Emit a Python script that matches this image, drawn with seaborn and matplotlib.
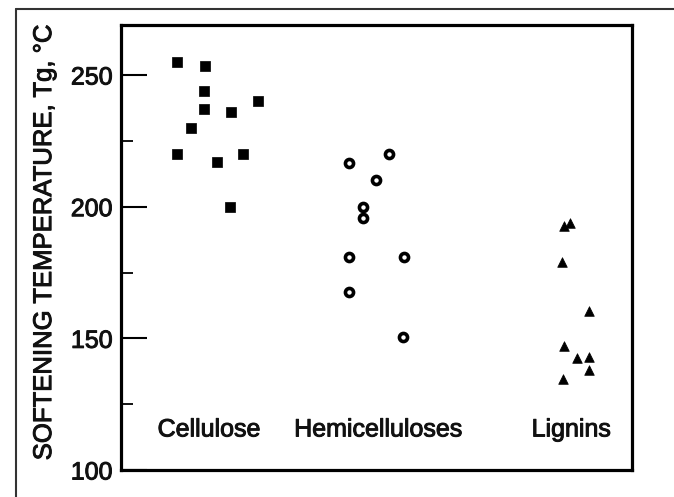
import matplotlib
matplotlib.use("Agg")
import matplotlib.pyplot as plt
import matplotlib.patheffects as pe
from matplotlib.lines import Line2D
from matplotlib.ticker import MultipleLocator
import pandas as pd
import seaborn as sns

# Softening (glass transition) temperatures of wood polymers, in °C.
# x values are horizontal positions within each column, on a 0-10 scale.
cellulose_x = [1.10, 1.64, 1.62, 1.62, 2.15, 2.68, 1.37, 1.10, 2.39, 1.88, 2.13]
cellulose_tg = [255, 253.4, 244, 237, 236, 240, 230, 220, 220, 217, 200]

hemicellulose_x = [4.46, 5.24, 4.99, 4.74, 4.74, 4.46, 5.54, 4.46, 5.52]
hemicellulose_tg = [216.6, 220, 210, 200, 195.6, 181, 181, 167.5, 150.5]

lignin_x = [8.67, 8.79, 8.63, 9.16, 8.67, 8.92, 9.16, 9.16, 8.65]
lignin_tg = [192.5, 193.7, 179, 160.5, 147, 142.5, 143, 138, 134.7]

categories = ["Cellulose", "Hemicelluloses", "Lignins"]
category_label_x = [1.72, 5.03, 8.81]
category_label_y = 115.4

y_ticks = [100, 150, 200, 250]
y_label = "SOFTENING TEMPERATURE, Tg, °C"

df = pd.concat([
    pd.DataFrame({"x": cellulose_x, "tg": cellulose_tg, "group": categories[0]}),
    pd.DataFrame({"x": hemicellulose_x, "tg": hemicellulose_tg, "group": categories[1]}),
    pd.DataFrame({"x": lignin_x, "tg": lignin_tg, "group": categories[2]}),
], ignore_index=True)

sns.set_theme(style="white")
plt.rcParams["font.family"] = ["Liberation Sans", "DejaVu Sans"]

# slightly heavier strokes for the printed-looking lettering
heavy = [pe.withStroke(linewidth=0.7, foreground="#111111")]

fig = plt.figure(figsize=(6.74, 4.97), dpi=100)
ax = fig.add_axes([121 / 674, 1 - 470 / 497, 511 / 674, 445 / 497])

sns.scatterplot(data=df[df.group == categories[0]], x="x", y="tg", marker="s",
                s=42, color="black", edgecolor="black", linewidth=0.5, ax=ax,
                legend=False)
sns.scatterplot(data=df[df.group == categories[1]], x="x", y="tg", marker="o",
                s=34, color="white", edgecolor="black", linewidth=2.6, ax=ax,
                legend=False)
sns.scatterplot(data=df[df.group == categories[2]], x="x", y="tg", marker="^",
                s=48, color="black", edgecolor="black", linewidth=0.5, ax=ax,
                legend=False)

for name, cx in zip(categories, category_label_x):
    ax.text(cx, category_label_y, name, ha="center", va="center",
            fontsize=18, color="#111111", path_effects=heavy)

ax.set_xlim(0, 10)
ax.set_ylim(100, 269)
ax.set_xticks([])
ax.set_yticks(y_ticks)
ax.yaxis.set_minor_locator(MultipleLocator(25))
ax.tick_params(axis="y", which="major", direction="in", length=19, width=1.5,
               color="black", pad=6, labelsize=18, labelcolor="#111111", left=True)
ax.tick_params(axis="y", which="minor", direction="in", length=8.5, width=1.3,
               color="black", left=True)
for lbl in ax.get_yticklabels():
    lbl.set_path_effects(heavy)
ax.set_xlabel("")
ax.set_ylabel(y_label, fontsize=18.5, color="#111111", path_effects=heavy)
ax.yaxis.set_label_coords(-0.127, 0.512)

for side in ["left", "right", "top", "bottom"]:
    ax.spines[side].set_visible(True)
    ax.spines[side].set_color("black")
    ax.spines[side].set_linewidth(2.3)

# Outer frame lines along the top and left edges of the figure
fig.add_artist(Line2D([16 / 674, 1.0], [1 - 8.5 / 497, 1 - 8.5 / 497],
                      transform=fig.transFigure, color="#333333", linewidth=1.5))
fig.add_artist(Line2D([16 / 674, 16 / 674], [0.0, 1 - 8.5 / 497],
                      transform=fig.transFigure, color="#333333", linewidth=1.5))

fig.savefig("out.png", dpi=100, facecolor="white")
